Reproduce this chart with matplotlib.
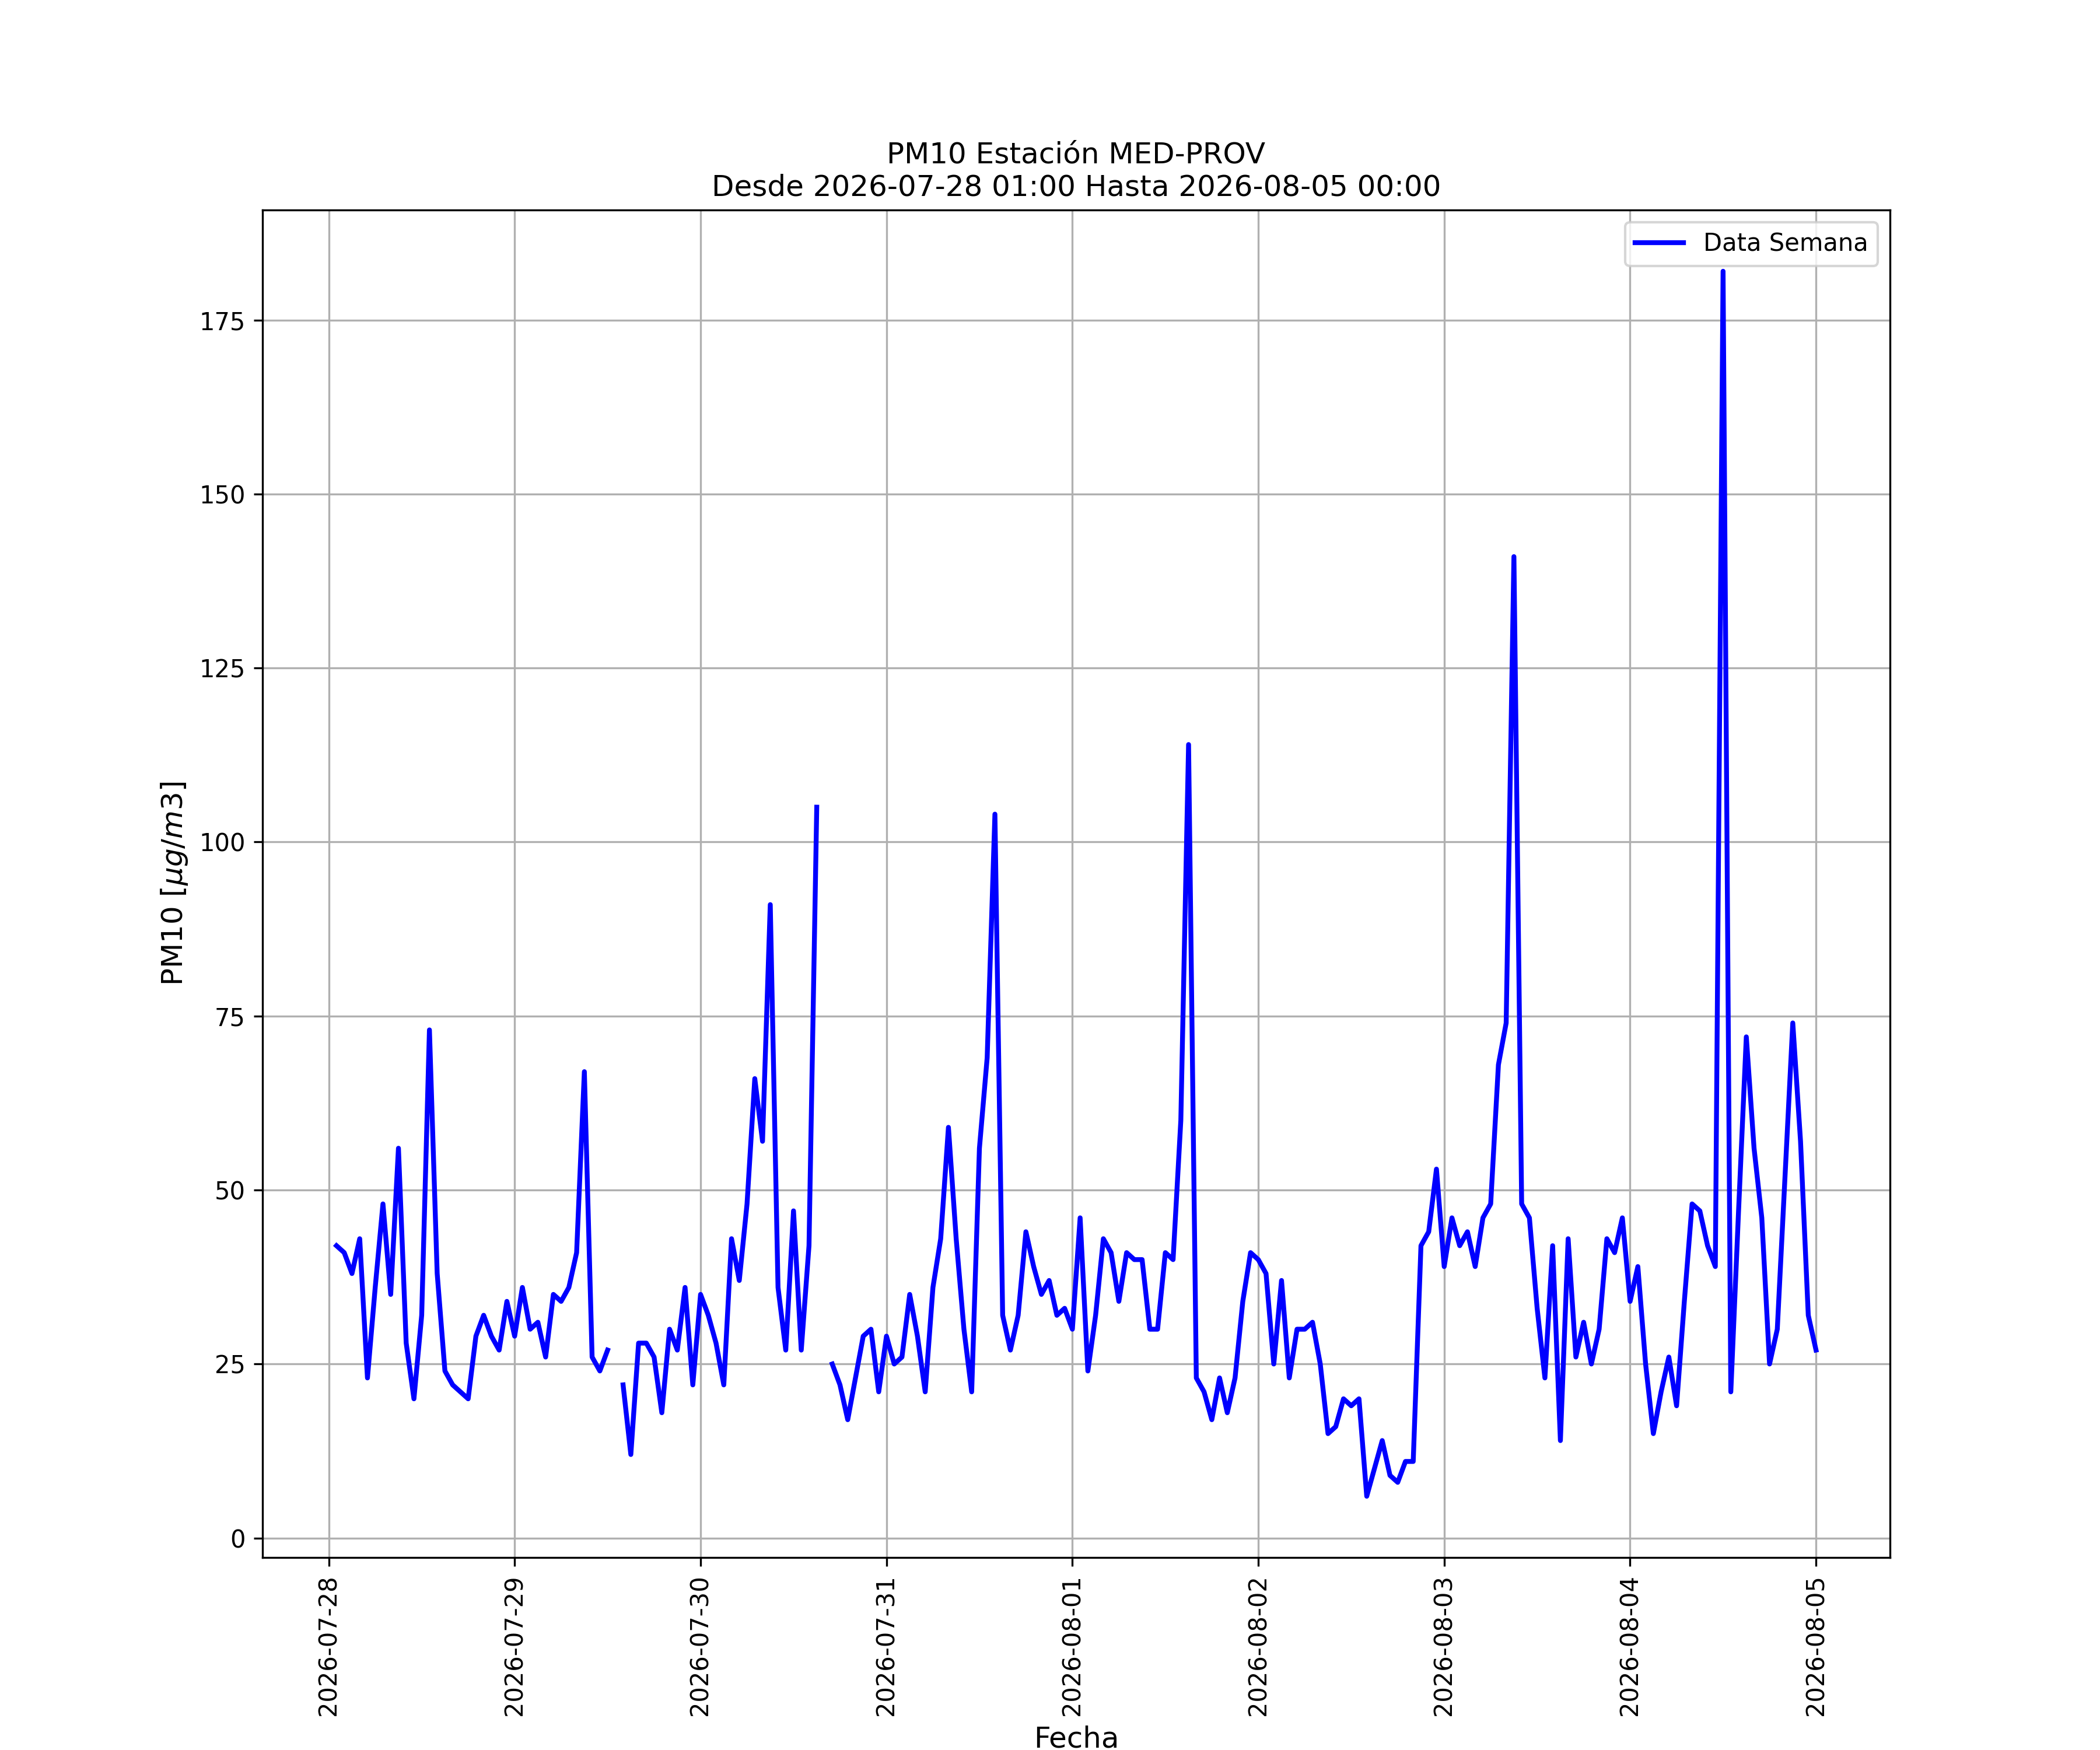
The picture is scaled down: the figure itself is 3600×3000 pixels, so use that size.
import numpy as np
import pandas as pd
import matplotlib
matplotlib.use('Agg')
import matplotlib.pyplot as plt
import matplotlib.dates as mdates

nan = np.nan

# Hourly PM10 values, one list per day (first day starts at 01:00)
dia_0728 = [42, 41, 38, 43, 23, 36, 48, 35, 56, 28, 20, 32, 73, 38, 24, 22, 21, 20, 29, 32, 29, 27, 34]
dia_0729 = [29, 36, 30, 31, 26, 35, 34, 36, 41, 67, 26, 24, 27, nan, 22, 12, 28, 28, 26, 18, 30, 27, 36, 22]
dia_0730 = [35, 32, 28, 22, 43, 37, 48, 66, 57, 91, 36, 27, 47, 27, 42, 105, nan, 25, 22, 17, 23, 29, 30, 21]
dia_0731 = [29, 25, 26, 35, 29, 21, 36, 43, 59, 43, 30, 21, 56, 69, 104, 32, 27, 32, 44, 39, 35, 37, 32, 33]
dia_0801 = [30, 46, 24, 32, 43, 41, 34, 41, 40, 40, 30, 30, 41, 40, 60, 114, 23, 21, 17, 23, 18, 23, 34, 41]
dia_0802 = [40, 38, 25, 37, 23, 30, 30, 31, 25, 15, 16, 20, 19, 20, 6, 10, 14, 9, 8, 11, 11, 42, 44, 53]
dia_0803 = [39, 46, 42, 44, 39, 46, 48, 68, 74, 141, 48, 46, 33, 23, 42, 14, 43, 26, 31, 25, 30, 43, 41, 46]
dia_0804 = [34, 39, 25, 15, 21, 26, 19, 34, 48, 47, 42, 39, 182, 21, 47, 72, 56, 46, 25, 30, 52, 74, 57, 32]
dia_0805 = [27]

inicio = '2026-07-28 01:00'
fin = '2026-08-05 00:00'
estacion = 'MED-PROV'

valores = dia_0728 + dia_0729 + dia_0730 + dia_0731 + dia_0801 + dia_0802 + dia_0803 + dia_0804 + dia_0805
fechas = pd.date_range(inicio, fin, freq='h')
data = pd.Series(valores, index=fechas)

fig, ax = plt.subplots(figsize=(12, 10))
ax.plot(data.index, data.values, color='blue', linewidth=2, label='Data Semana')

ax.set_title('PM10 Estación ' + estacion + '\nDesde ' + inicio + ' Hasta ' + fin, fontsize=12)
ax.set_xlabel('Fecha', fontsize=12)
ax.set_ylabel(r'PM10 [$\mu g/m3$]', fontsize=12)

ax.xaxis.set_major_locator(mdates.DayLocator())
ax.xaxis.set_major_formatter(mdates.DateFormatter('%Y-%m-%d'))
plt.xticks(rotation=90)
ax.grid(True)
ax.legend(loc='upper right')

plt.savefig('out.png', dpi=300)
plt.close()
